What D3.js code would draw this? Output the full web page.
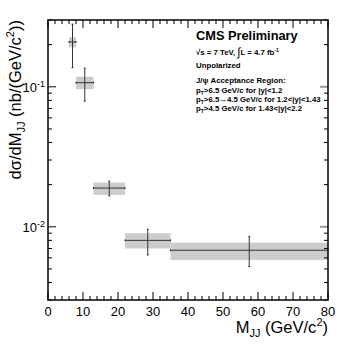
<!DOCTYPE html>
<html><head><meta charset="utf-8">
<script src="https://cdn.jsdelivr.net/npm/d3@7"></script>
<style>body{margin:0;background:#fff} svg{display:block} text{font-family:"Liberation Sans",Arial,Helvetica,sans-serif}</style>
</head><body><svg id="c" width="346" height="346"></svg>
<script>
const binLow   = [6, 8, 13, 22, 35];
const binHigh  = [8, 13, 22, 35, 80];
const xsec     = [0.209, 0.107, 0.0189, 0.0080, 0.0068];
const statLow  = [0.137, 0.079, 0.0166, 0.0063, 0.0052];
const statHigh = [0.280, 0.136, 0.0212, 0.0096, 0.0085];
const systLow  = [0.191, 0.096, 0.0169, 0.0070, 0.0058];
const systHigh = [0.226, 0.118, 0.0207, 0.0090, 0.0077];
const xTicks = [0, 10, 20, 30, 40, 50, 60, 70, 80];
const yTicks = [0.1, 0.01];
const yTickExp = ["-1", "-2"];
const xDomain = [0, 80];
const yDomain = [0.003, 0.3];

const L = 48, R = 328, T = 20, B = 300;
const svg = d3.select("#c");
const x = d3.scaleLinear().domain(xDomain).range([L, R]);
const y = d3.scaleLog().domain(yDomain).range([B, T]);

const data = binLow.map((lo, i) => ({lo, hi: binHigh[i], v: xsec[i], sl: statLow[i], sh: statHigh[i], yl: systLow[i], yh: systHigh[i]}));

// systematic boxes
svg.append("g").selectAll("rect").data(data).join("rect")
  .attr("x", d => x(d.lo)).attr("width", d => x(d.hi) - x(d.lo))
  .attr("y", d => y(d.yh)).attr("height", d => y(d.yl) - y(d.yh))
  .attr("fill", "#cccccc");

const eg = svg.append("g").attr("stroke", "#333").attr("stroke-width", 1);
data.forEach(d => {
  const xc = x((d.lo + d.hi) / 2);
  eg.append("line").attr("x1", x(d.lo)).attr("x2", x(d.hi)).attr("y1", y(d.v)).attr("y2", y(d.v));
  eg.append("line").attr("x1", xc).attr("x2", xc).attr("y1", y(d.sh)).attr("y2", y(d.sl));
  [d.sh, d.sl].forEach(v => eg.append("line").attr("x1", xc - 1).attr("x2", xc + 1).attr("y1", y(v)).attr("y2", y(v)));
  [d.lo, d.hi].forEach(v => eg.append("line").attr("x1", x(v)).attr("x2", x(v)).attr("y1", y(d.v) - 1).attr("y2", y(d.v) + 1));
});

// axes with ROOT-style inner ticks
const ax = svg.append("g").attr("stroke", "#000").attr("stroke-width", 1);
const xMinor = d3.range(0, 81, 2);
xMinor.forEach(v => {
  const len = v % 10 === 0 ? 8 : 4;
  ax.append("line").attr("x1", x(v)).attr("x2", x(v)).attr("y1", B).attr("y2", B - len);
  ax.append("line").attr("x1", x(v)).attr("x2", x(v)).attr("y1", T).attr("y2", T + len);
});
const yAll = [];
[0.001, 0.01, 0.1].forEach(dec => { for (let k = 1; k <= 9; k++) { const v = dec * k; if (v >= yDomain[0] * 0.999 && v <= yDomain[1] * 1.001) yAll.push({v, major: k === 1}); } });
yAll.forEach(t => {
  const len = t.major ? 8 : 4;
  ax.append("line").attr("x1", L).attr("x2", L + len).attr("y1", y(t.v)).attr("y2", y(t.v));
  ax.append("line").attr("x1", R).attr("x2", R - len).attr("y1", y(t.v)).attr("y2", y(t.v))
    .attr("stroke", t.major ? "#999" : "#000").attr("stroke-width", t.major ? 2 : 1);
});
svg.append("rect").attr("x", L).attr("y", T).attr("width", R - L).attr("height", B - T)
  .attr("fill", "none").attr("stroke", "#000").attr("stroke-width", 1.5);

// tick labels
svg.append("g").selectAll("text").data(xTicks).join("text")
  .attr("x", d => x(d)).attr("y", B + 16).attr("text-anchor", "middle")
  .attr("font-size", 13).text(d => d);
yTicks.forEach((v, i) => {
  const t = svg.append("text").attr("x", 45).attr("y", y(v) + 5).attr("text-anchor", "end").attr("font-size", 13);
  t.append("tspan").text("10");
  t.append("tspan").attr("dy", -5).attr("font-size", 9).text(yTickExp[i]);
});

// axis titles
const xt = svg.append("text").attr("x", R).attr("y", 333).attr("text-anchor", "end").attr("font-size", 16.5);
xt.append("tspan").text("M");
xt.append("tspan").attr("dy", 4).attr("font-size", 11).text("JJ");
xt.append("tspan").attr("dy", -4).text(" (GeV/c");
xt.append("tspan").attr("dy", -7).attr("font-size", 11).text("2");
xt.append("tspan").attr("dy", 7).text(")");

const yt = svg.append("text").attr("transform", `translate(21,${T}) rotate(-90)`).attr("text-anchor", "end").attr("font-size", 16.5);
yt.append("tspan").text("dσ/dM");
yt.append("tspan").attr("dy", 4).attr("font-size", 11).text("JJ");
yt.append("tspan").attr("dy", -4).text(" (nb/(GeV/c");
yt.append("tspan").attr("dy", -7).attr("font-size", 11).text("2");
yt.append("tspan").attr("dy", 7).text("))");

// annotation block
svg.append("text").attr("x", 196).attr("y", 40).attr("font-size", 12.8).attr("font-weight", "bold").text("CMS Preliminary");
const small = (yy) => svg.append("text").attr("x", 196).attr("y", yy).attr("font-size", 7.8).attr("font-weight", "bold");
const l1 = small(55);
l1.append("tspan").text("\u221As = 7 TeV, ");
l1.append("tspan").attr("font-size", 11.5).attr("font-weight", "normal").attr("dy", 1).text("\u222B");
l1.append("tspan").attr("dy", -1).text("L = 4.7 fb");
l1.append("tspan").attr("dy", -3).attr("font-size", 5).text("-1");
small(68).text("Unpolarized");
small(83).text("J/\u03C8 Acceptance Region:");
const ptLines = [">6.5 GeV/c for |y|<1.2", ">6.5\u21924.5 GeV/c for 1.2<|y|<1.43", ">4.5 GeV/c for 1.43<|y|<2.2"];
ptLines.forEach((s, i) => {
  const t = small(93 + i * 9.2);
  t.append("tspan").text("p");
  t.append("tspan").attr("dy", 2).attr("font-size", 5).text("T");
  t.append("tspan").attr("dy", -2).text(s);
});
</script></body></html>
